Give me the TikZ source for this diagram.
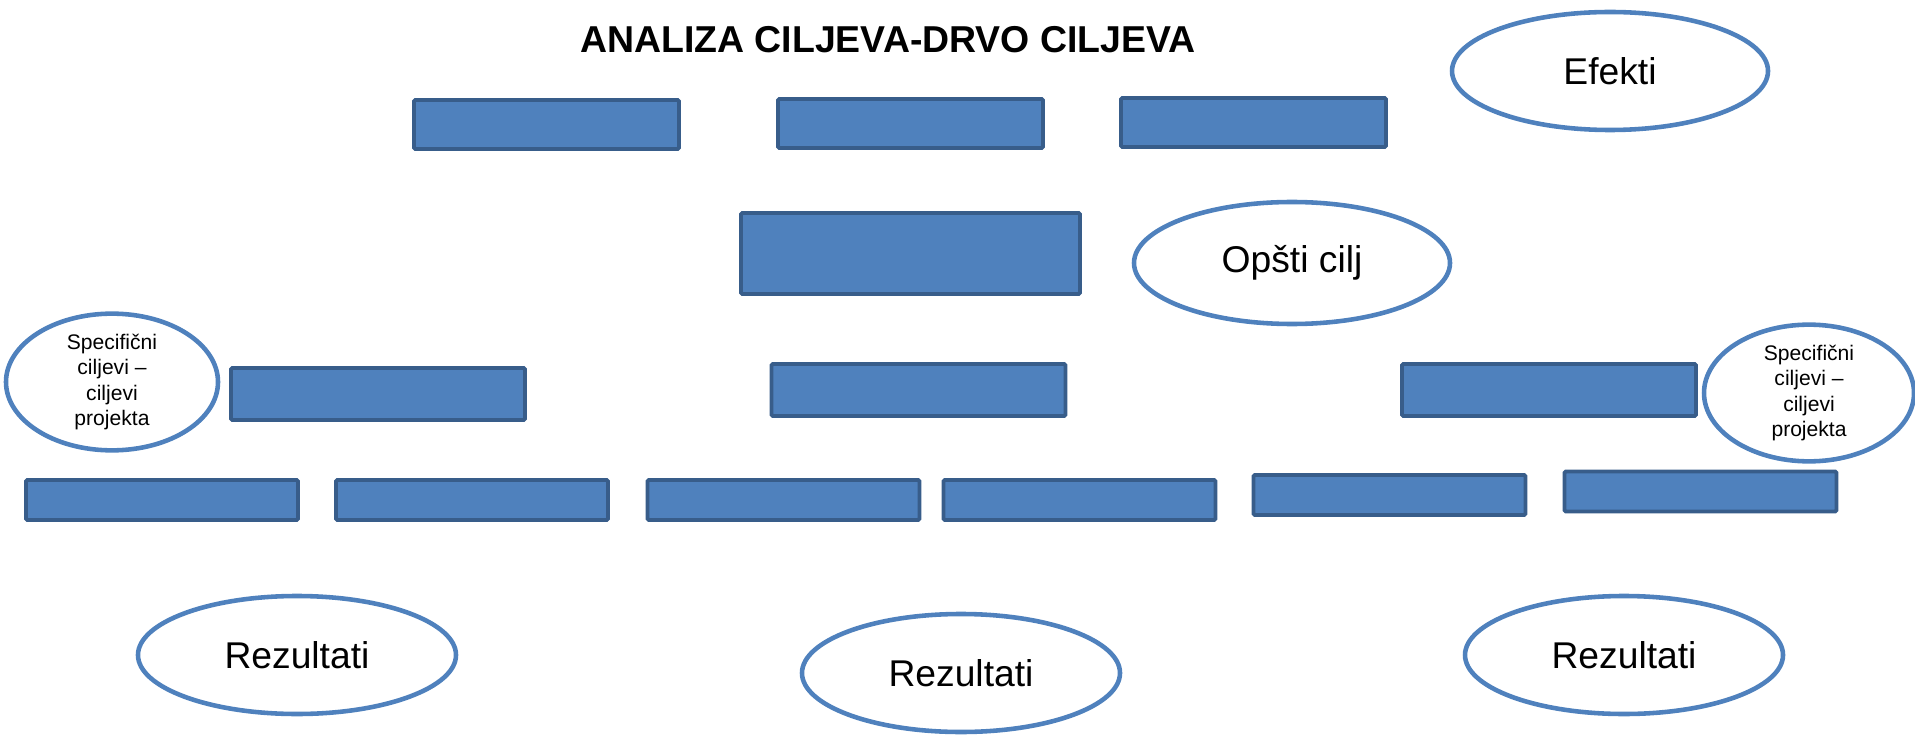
\documentclass[tikz,border=0pt]{standalone}
\usepackage{fontspec}
\setmainfont{Liberation Sans}
\usetikzlibrary{shapes.geometric}

\definecolor{goalfill}{HTML}{4F81BD}
\definecolor{goaledge}{HTML}{385D8A}

\begin{document}
\begin{tikzpicture}[x=0.02cm,y=-0.02cm,
    goal/.style={rectangle,draw=goaledge,fill=goalfill,line width=2.2pt,
      rounded corners=0.8pt,inner sep=0pt},
    tag/.style={ellipse,draw=goalfill,line width=2.6pt,fill=white,
      inner sep=0pt,align=center,font=\fontsize{21.2}{25}\selectfont},
    smalltag/.style={tag,font=\fontsize{12}{14.6}\selectfont}]

    \useasboundingbox (0,0) rectangle (1915,736);

    %==================== Title ====================
    \node[font=\fontsize{21.3}{25}\selectfont\bfseries] (title) at (888,40)
      {ANALIZA CILJEVA-DRVO CILJEVA};

    %==================== Boxes ====================
    % Effects row
    \foreach \name/\cx/\cy in {e1/546.5/124.5, e2/910.5/123.5, e3/1253.5/122.5} {
      \node[goal,minimum width=265*0.02cm,minimum height=49*0.02cm]
        (\name) at (\cx,\cy) {};
    }

    % Overall goal
    \node[goal,minimum width=339*0.02cm,minimum height=81*0.02cm]
      (og) at (910.5,253.5) {};

    % Specific goals
    \foreach \name/\cx/\cy in {s1/378/394, s2/918.5/390, s3/1549/390} {
      \node[goal,minimum width=294*0.02cm,minimum height=52*0.02cm]
        (\name) at (\cx,\cy) {};
    }

    % Results row
    \foreach \name/\cx/\cy in {r1/162/500, r2/472/500, r3/783.5/500,
                               r4/1079.5/500, r5/1389.5/495, r6/1700.5/491.5} {
      \node[goal,minimum width=272*0.02cm,minimum height=40*0.02cm]
        (\name) at (\cx,\cy) {};
    }

    %==================== Labels ====================
    \node[tag,minimum width=316*0.02cm,minimum height=118*0.02cm]
      (efekti) at (1610,71) {Efekti};
    \node[tag,minimum width=316*0.02cm,minimum height=122*0.02cm]
      (opsti) at (1292,263) {Opšti cilj};

    \node[smalltag,minimum width=212*0.02cm,minimum height=124*0.02cm]
      (specl) at (112,382) {Specifični\\ciljevi –\\ciljevi\\projekta};
    \node[smalltag,minimum width=210*0.02cm,minimum height=128*0.02cm]
      (specr) at (1809,393) {Specifični\\ciljevi –\\ciljevi\\projekta};

    \foreach \name/\cx/\cy in {rez1/297/655, rez2/961/673, rez3/1624/655} {
      \node[tag,minimum width=318*0.02cm,minimum height=118*0.02cm]
        (\name) at (\cx,\cy) {Rezultati};
    }

\end{tikzpicture}
\end{document}
